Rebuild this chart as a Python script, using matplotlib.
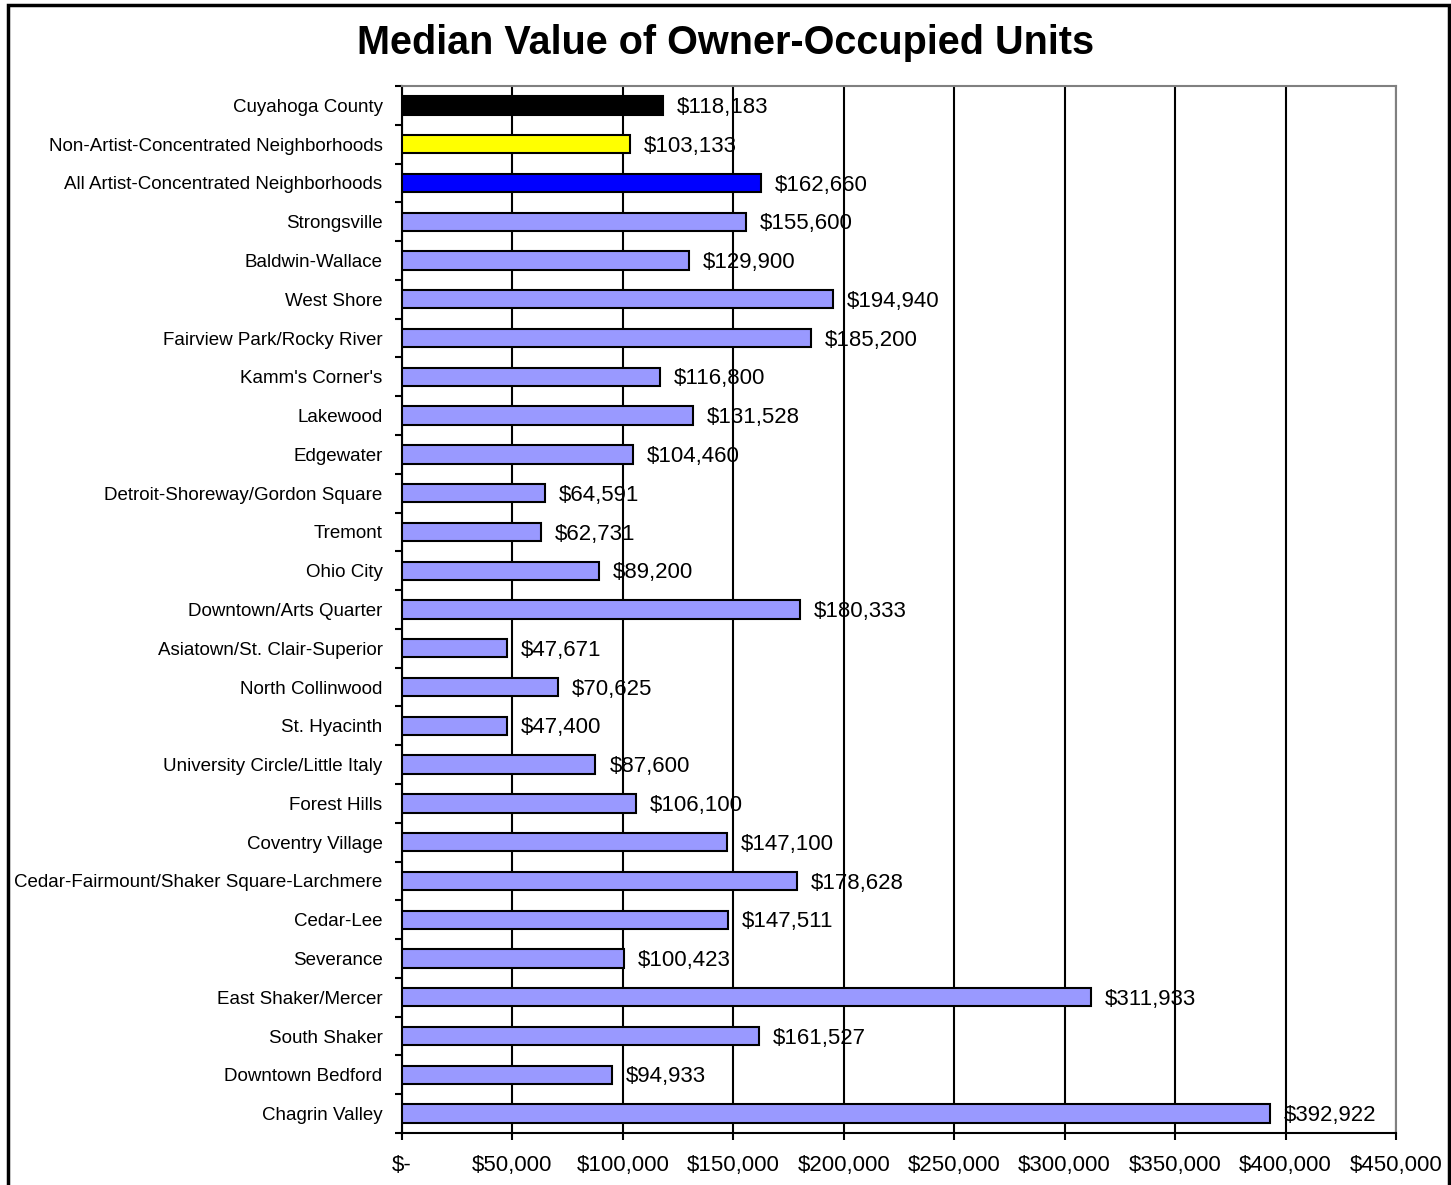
import matplotlib.pyplot as plt
from matplotlib.patches import Rectangle
from matplotlib.ticker import FixedLocator, FuncFormatter

plt.rcParams['font.family'] = ['Liberation Sans', 'DejaVu Sans']

# Data (top to bottom as shown in the chart)
neighborhoods = [
    "Cuyahoga County",
    "Non-Artist-Concentrated Neighborhoods",
    "All Artist-Concentrated Neighborhoods",
    "Strongsville",
    "Baldwin-Wallace",
    "West Shore",
    "Fairview Park/Rocky River",
    "Kamm's Corner's",
    "Lakewood",
    "Edgewater",
    "Detroit-Shoreway/Gordon Square",
    "Tremont",
    "Ohio City",
    "Downtown/Arts Quarter",
    "Asiatown/St. Clair-Superior",
    "North Collinwood",
    "St. Hyacinth",
    "University Circle/Little Italy",
    "Forest Hills",
    "Coventry Village",
    "Cedar-Fairmount/Shaker Square-Larchmere",
    "Cedar-Lee",
    "Severance",
    "East Shaker/Mercer",
    "South Shaker",
    "Downtown Bedford",
    "Chagrin Valley",
]
median_values = [
    118183, 103133, 162660, 155600, 129900, 194940, 185200, 116800,
    131528, 104460, 64591, 62731, 89200, 180333, 47671, 70625, 47400,
    87600, 106100, 147100, 178628, 147511, 100423, 311933, 161527,
    94933, 392922,
]
bar_colors = ["#000000", "#FFFF00", "#0000FF"] + ["#9999FF"] * (len(neighborhoods) - 3)
x_ticks = [0, 50000, 100000, 150000, 200000, 250000, 300000, 350000, 400000, 450000]


def money(v, pos=None):
    if v == 0:
        return "$-"
    return f"${v:,.0f}"


fig = plt.figure(figsize=(14.51, 11.85), dpi=100)
ax = fig.add_axes([402 / 1451, 1 - 1133 / 1185, (1396 - 402) / 1451, (1133 - 86) / 1185])

ypos = list(range(len(neighborhoods)))
ax.barh(ypos, median_values, height=0.47, color=bar_colors,
        edgecolor="black", linewidth=1.5, zorder=3)

# data labels
for y, v in zip(ypos, median_values):
    ax.annotate(money(v), (v, y), xytext=(10, -1.5), textcoords="offset points",
                ha="left", va="center", fontsize=16, zorder=4)

ax.set_xlim(0, 450000)
ax.set_ylim(len(neighborhoods) - 0.5, -0.5)

# x axis
ax.xaxis.set_major_locator(FixedLocator(x_ticks))
ax.xaxis.set_major_formatter(FuncFormatter(money))
ax.tick_params(axis="x", direction="out", length=5, width=1.5, pad=11,
               labelsize=16, color="black")
ax.grid(axis="x", color="black", linewidth=1.5, zorder=0)

# y axis: labels at centres, tick marks at category boundaries
ax.set_yticks(ypos)
ax.set_yticklabels(neighborhoods, fontsize=13.5)
ax.tick_params(axis="y", which="major", length=0, pad=14)
ax.set_yticks([i - 0.5 for i in range(len(neighborhoods) + 1)], minor=True)
ax.tick_params(axis="y", which="minor", direction="out", length=5, width=1.5)

for side in ["left", "bottom"]:
    ax.spines[side].set_color("black")
    ax.spines[side].set_linewidth(1.5)
for side in ["top", "right"]:
    ax.spines[side].set_color("#808080")
    ax.spines[side].set_linewidth(1.5)
ax.set_axisbelow(True)

fig.text(0.5, 1 - 43 / 1185, "Median Value of Owner-Occupied Units",
         ha="center", va="center", fontsize=28.5, fontweight="bold")

# outer border of the chart
fig.patches.append(Rectangle((8 / 1451, -0.02), (1449 - 8) / 1451, 1.02 - 5 / 1185,
                             transform=fig.transFigure, fill=False,
                             edgecolor="black", linewidth=2.5))

fig.savefig("out.png", dpi=100)
